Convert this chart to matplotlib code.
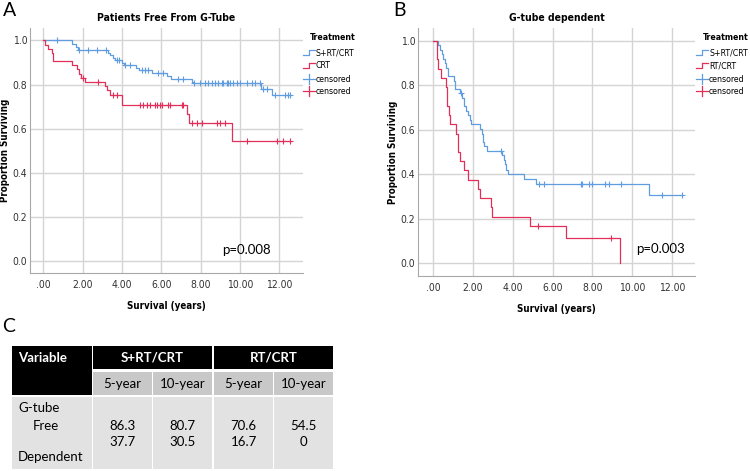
import numpy as np
import matplotlib
matplotlib.use('Agg')
import matplotlib.pyplot as plt
from matplotlib.patches import Rectangle
from matplotlib.lines import Line2D
from matplotlib import font_manager

# --- Kaplan-Meier data ---
# Panel A: Patients free from G-tube
a_blue_t = [1.44, 1.66, 1.78, 3.27, 3.39, 3.53, 3.64, 3.98, 4.10, 4.71, 4.88, 5.51,
            6.27, 6.47, 7.54, 7.63, 11.07, 11.61]
a_blue_s = [0.985, 0.97, 0.957, 0.945, 0.933, 0.921, 0.91, 0.899, 0.888, 0.877, 0.866, 0.853,
            0.838, 0.823, 0.813, 0.805, 0.78, 0.752]
a_blue_cens = [0.68, 1.81, 2.29, 2.71, 3.17, 3.76, 3.85, 4.15, 4.41, 5.0, 5.17, 5.34, 5.85,
               6.10, 6.86, 7.12, 7.66, 7.97, 8.22, 8.39, 8.56, 8.73, 8.90, 9.07, 9.15, 9.32,
               9.41, 9.49, 9.66, 9.83, 10.0, 10.34, 10.59, 10.76, 11.02, 11.19, 11.36, 11.78,
               12.29, 12.46, 12.54]
a_red_t = [0.08, 0.25, 0.42, 0.51, 1.44, 1.73, 1.83, 1.90, 2.12, 3.14, 3.25, 3.39, 3.98,
           7.29, 7.41, 9.61]
a_red_s = [0.98, 0.962, 0.943, 0.906, 0.887, 0.868, 0.849, 0.83, 0.811, 0.792, 0.773, 0.752,
           0.706, 0.665, 0.624, 0.545]
a_red_cens = [2.0, 2.80, 3.56, 3.73, 4.92, 5.08, 5.25, 5.42, 5.68, 5.76, 5.93, 6.02, 6.36,
              6.44, 7.03, 7.12, 7.54, 7.80, 8.05, 8.81, 8.98, 9.24, 10.34, 11.86, 12.2, 12.54]

# Panel B: G-tube dependent
b_blue_t = [0.25, 0.34, 0.42, 0.51, 0.59, 0.66, 0.72, 1.03, 1.09, 1.35, 1.46, 1.52, 1.57,
            1.63, 1.77, 1.84, 1.90, 2.36, 2.44, 2.49, 2.56, 2.69, 3.48, 3.54, 3.59, 3.65,
            3.75, 4.58, 5.19, 10.86]
b_blue_s = [0.98, 0.96, 0.94, 0.92, 0.90, 0.88, 0.843, 0.82, 0.786, 0.765, 0.745, 0.725,
            0.705, 0.685, 0.665, 0.645, 0.625, 0.605, 0.58, 0.545, 0.525, 0.505, 0.485,
            0.465, 0.445, 0.42, 0.40, 0.378, 0.357, 0.305]
b_blue_cens = [1.40, 3.42, 5.30, 5.56, 7.41, 7.46, 7.83, 8.00, 8.64, 8.84, 9.43, 11.50, 12.51]
b_red_t = [0.17, 0.20, 0.25, 0.39, 0.62, 0.67, 0.71, 0.79, 0.84, 1.13, 1.23, 1.26, 1.35,
           1.52, 1.77, 2.27, 2.36, 2.90, 2.95, 4.88, 6.68, 9.39]
b_red_s = [0.958, 0.917, 0.875, 0.833, 0.792, 0.75, 0.708, 0.667, 0.625, 0.583, 0.542, 0.50,
           0.458, 0.417, 0.375, 0.333, 0.292, 0.25, 0.208, 0.167, 0.111, 0.0]
b_red_cens = [5.27, 8.92]

# --- Table data ---
groups = ['S+RT/CRT', 'RT/CRT']
periods = ['5-year', '10-year', '5-year', '10-year']
free_vals = ['86.3', '80.7', '70.6', '54.5']
dep_vals = ['37.7', '30.5', '16.7', '0']

BLUE = '#5f9de0'
RED = '#e22f5a'
GRID = '#d4d4d4'

# SPSS-ish narrow font
_names = {f.name for f in font_manager.fontManager.ttflist}
if 'Liberation Sans Narrow' in _names:
    SPSS = dict(family=['Liberation Sans Narrow', 'DejaVu Sans'])
else:
    SPSS = dict(family=['DejaVu Sans'], fontstretch='condensed')


def km_curve(t, s, cens, t_end):
    tt = [0.0]
    ss = [1.0]
    for ti, si in zip(t, s):
        tt += [ti, ti]
        ss += [ss[-1], si]
    if t_end > tt[-1]:
        tt.append(t_end)
        ss.append(ss[-1])
    tc = np.array(cens)
    idx = np.searchsorted(np.array(t), tc, side='right')
    sv = np.concatenate([[1.0], s])
    return tt, ss, tc, sv[idx]


def km_panel(ax, curves, xlim, ylim, title, ptext, ppos):
    ax.set_xlim(*xlim)
    ax.set_ylim(*ylim)
    ax.set_xticks(np.arange(0, 13, 2))
    ax.set_xticklabels(['.00', '2.00', '4.00', '6.00', '8.00', '10.00', '12.00'])
    ax.set_yticks(np.arange(0, 1.01, 0.2))
    ax.set_yticklabels(['0.0', '0.2', '0.4', '0.6', '0.8', '1.0'])
    ax.grid(True, color=GRID, linewidth=1.0)
    ax.set_axisbelow(True)
    for sp in ['top', 'right']:
        ax.spines[sp].set_visible(False)
    for sp in ['left', 'bottom']:
        ax.spines[sp].set_color('#a8a8a8')
        ax.spines[sp].set_linewidth(0.8)
    ax.tick_params(axis='x', length=0, labelsize=7.5, colors='#333333', pad=5)
    ax.tick_params(axis='y', length=0, labelsize=7.5, colors='#333333', pad=2)
    for lab in ax.get_xticklabels() + ax.get_yticklabels():
        lab.set(**SPSS)
    for t, s, c, col, tend in curves:
        tt, ss, tc, sc = km_curve(t, s, c, tend)
        ax.plot(tt, ss, color=col, linewidth=0.9)
        ax.plot(tc, sc, linestyle='none', marker='|', markersize=5, mew=0.8, color=col)
        ax.plot(tc, sc, linestyle='none', marker='_', markersize=4, mew=0.8, color=col)
    ax.set_title(title, fontsize=7.5, fontweight='bold', pad=5, **SPSS)
    ax.set_xlabel('Survival (years)', fontsize=7, fontweight='bold', labelpad=8, **SPSS)
    ax.text(ppos[0], ppos[1], ptext, fontsize=9.5, family=['Lato', 'DejaVu Sans'],
            transform=ax.transData, va='center')


fig = plt.figure(figsize=(7.5, 4.71), dpi=100)
ax_a = fig.add_axes([30 / 750, 1 - 273 / 471, 273 / 750, 245 / 471])
ax_b = fig.add_axes([418 / 750, 1 - 276 / 471, 277 / 750, 248 / 471])

km_panel(ax_a, [(a_blue_t, a_blue_s, a_blue_cens, BLUE, 12.54),
                (a_red_t, a_red_s, a_red_cens, RED, 12.54)],
         (-0.68, 13.2), (-0.054, 1.056), 'Patients Free From G-Tube', 'p=0.008', (9.1, 0.05))
km_panel(ax_b, [(b_blue_t, b_blue_s, b_blue_cens, BLUE, 12.51),
                (b_red_t, b_red_s, b_red_cens, RED, 9.39)],
         (-0.77, 13.17), (-0.0586, 1.0586), 'G-tube dependent', 'p=0.003', (10.2, 0.065))

# --- overlay axes in pixel coordinates for legends, letters and the table ---
ov = fig.add_axes([0, 0, 1, 1], zorder=5)
ov.set_xlim(0, 750)
ov.set_ylim(471, 0)
ov.axis('off')
ov.patch.set_alpha(0)

ov.text(5, 150, 'Proportion Surviving', rotation=90, fontsize=7, fontweight='bold',
        ha='center', va='center', **SPSS)
ov.text(393, 152, 'Proportion Surviving', rotation=90, fontsize=7, fontweight='bold',
        ha='center', va='center', **SPSS)


def legend(x0, labels):
    ov.text(x0 + 7, 38, 'Treatment', fontsize=6.3, fontweight='bold',
            va='center', ha='left', **SPSS)
    ys = [53, 66, 79, 91]
    cols = [BLUE, RED, BLUE, RED]
    for i, (y, col, lab) in enumerate(zip(ys, cols, labels)):
        if i < 2:
            ov.add_line(Line2D([x0, x0 + 6, x0 + 6, x0 + 12], [y + 2, y + 2, y - 3, y - 3],
                               color=col, lw=0.9))
        else:
            ov.add_line(Line2D([x0, x0 + 12], [y, y], color=col, lw=0.9))
            ov.add_line(Line2D([x0 + 6, x0 + 6], [y - 5, y + 5], color=col, lw=0.9))
        ov.text(x0 + 13, y, lab, fontsize=6.3, va='center', ha='left', **SPSS)


legend(303, ['S+RT/CRT', 'CRT', 'censored', 'censored'])
legend(696, ['S+RT/CRT', 'RT/CRT', 'censored', 'censored'])

letter_font = ['Lato', 'DejaVu Sans']
ov.text(3, 11, 'A', fontsize=14, family=letter_font, va='center', ha='left')
ov.text(393, 11, 'B', fontsize=14, family=letter_font, va='center', ha='left')
ov.text(2, 326, 'C', fontsize=14, family=letter_font, va='center', ha='left')

# table
tf = ['Lato', 'DejaVu Sans']
BLACK = '#000000'
SUB = '#c8c8c8'
CELL = '#e2e2e2'
ov.add_patch(Rectangle((12, 346), 80, 49, color=BLACK, lw=0))
grp_x = [(93, 119), (214, 119)]
for (gx, gw), g in zip(grp_x, groups):
    ov.add_patch(Rectangle((gx, 346), gw, 23, color=BLACK, lw=0))
    ov.text(gx + gw / 2, 357.5, g, color='white', fontsize=9.5, fontweight='bold', family=tf,
            ha='center', va='center')
ov.text(18, 357.5, 'Variable', color='white', fontsize=9.5, fontweight='bold', family=tf,
        ha='left', va='center')
sub_x = [(93, 59), (153, 59), (214, 59), (274, 59)]
ov.add_patch(Rectangle((12, 397), 80, 72, color=CELL, lw=0))
for (sx, sw), p, fv, dv in zip(sub_x, periods, free_vals, dep_vals):
    ov.add_patch(Rectangle((sx, 372), sw, 23, color=SUB, lw=0))
    ov.text(sx + sw / 2, 383.5, p, fontsize=9.5, family=tf, ha='center', va='center')
    ov.add_patch(Rectangle((sx, 397), sw, 72, color=CELL, lw=0))
    ov.text(sx + sw / 2, 426, fv, fontsize=9.5, family=tf, ha='center', va='center')
    ov.text(sx + sw / 2, 442, dv, fontsize=9.5, family=tf, ha='center', va='center')
ov.text(18, 408, 'G-tube', fontsize=9.5, family=tf, ha='left', va='center')
ov.text(33, 426, 'Free', fontsize=9.5, family=tf, ha='left', va='center')
ov.text(18, 457, 'Dependent', fontsize=9.5, family=tf, ha='left', va='center')

fig.savefig('out.png', dpi=100)
